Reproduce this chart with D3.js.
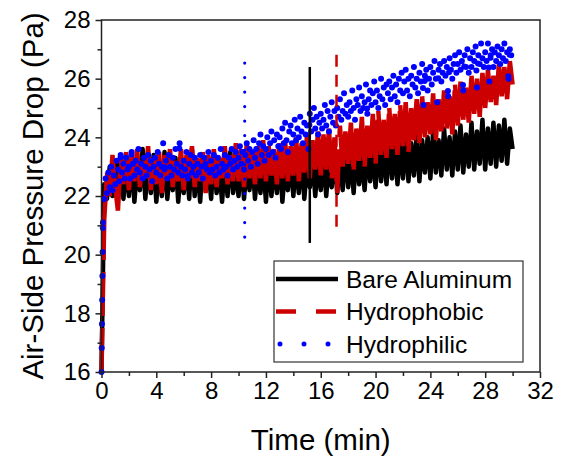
<!DOCTYPE html>
<html>
<head>
<meta charset="utf-8">
<script src="https://cdn.jsdelivr.net/npm/d3@7"></script>
<style>
  body { margin: 0; background: #fff; }
  text { font-family: Arial, "Liberation Sans", sans-serif; fill: #000; }
</style>
</head>
<body>
<div id="chart"></div>
<script>
// sampling steps (min)
var stepBR = 0.2, stepBlue = 0.1;

// Bare Aluminum, every 0.2 min from 0 to 30
var bareVals = [
  16.0, 22.4, 21.9, 23.0, 22.0, 23.2, 22.1, 23.4, 21.9, 23.1,
  22.0, 23.3, 21.8, 23.0, 22.2, 23.6, 21.9, 23.2, 22.1, 23.4,
  21.8, 23.1, 22.0, 23.5, 21.9, 22.9, 22.2, 23.3, 21.8, 23.0,
  22.1, 23.2, 21.9, 23.6, 22.0, 23.1, 21.8, 23.3, 22.2, 23.0,
  21.9, 23.4, 22.1, 23.0, 21.8, 23.2, 22.0, 23.5, 22.1, 22.9,
  22.0, 23.3, 21.9, 23.1, 22.2, 23.4, 21.9, 23.0, 22.1, 23.2,
  21.8, 23.3, 22.0, 23.1, 22.1, 23.5, 21.8, 23.0, 22.2, 23.3,
  22.0, 23.2, 22.1, 23.4, 21.9, 23.1, 22.3, 23.3, 22.0, 23.2,
  22.2, 23.4, 22.0, 23.2, 22.3, 23.5, 22.1, 23.3, 22.2, 23.6,
  22.3, 23.4, 22.1, 23.6, 22.4, 23.3, 22.2, 23.7, 22.5, 23.5,
  22.3, 23.8, 22.5, 23.6, 22.4, 23.9, 22.6, 23.7, 22.4, 23.8,
  22.6, 24.0, 22.5, 23.8, 22.7, 24.1, 22.5, 23.9, 22.8, 24.0,
  22.6, 24.2, 22.8, 23.9, 22.7, 24.3, 22.9, 24.0, 22.7, 24.2,
  22.9, 24.4, 22.8, 24.1, 23.0, 24.5, 22.9, 24.2, 23.1, 24.6,
  22.9, 24.3, 23.1, 24.5, 23.0, 24.4, 23.2, 24.6, 23.1, 24.3,
  23.6
];

// Hydrophobic, every 0.2 min
var phobicVals = [
  16.0, 21.2, 22.8, 22.0, 23.4, 22.3, 21.5, 23.3, 22.4, 23.5,
  22.2, 23.4, 22.5, 23.6, 22.3, 23.2, 22.6, 23.7, 22.2, 23.3,
  22.4, 23.5, 22.1, 23.4, 22.6, 23.6, 22.3, 23.2, 22.5, 23.6,
  22.2, 23.4, 22.6, 23.7, 22.3, 23.3, 22.5, 23.5, 22.1, 23.4,
  22.4, 23.6, 22.3, 23.3, 22.6, 23.7, 22.4, 23.4, 22.5, 23.8,
  22.5, 23.6, 22.3, 23.8, 22.6, 23.5, 22.4, 23.7, 22.6, 23.9,
  22.5, 23.7, 22.7, 23.6, 22.4, 23.8, 22.6, 23.9, 22.5, 23.7,
  22.7, 24.0, 22.5, 23.8, 22.8, 24.1, 22.6, 23.9, 22.9, 24.2,
  22.7, 24.1, 22.9, 24.3, 22.6, 24.0, 22.1, 24.4, 23.0, 24.2,
  23.1, 24.5, 22.9, 24.3, 23.2, 24.7, 23.0, 24.4, 23.3, 24.8,
  23.1, 24.9, 23.4, 24.6, 23.3, 25.0, 23.6, 24.8, 23.4, 25.1,
  23.7, 25.2, 23.5, 25.0, 23.9, 25.3, 23.8, 25.4, 24.0, 25.2,
  24.1, 25.5, 23.9, 25.3, 24.2, 25.6, 24.3, 25.4, 24.1, 25.8,
  24.4, 25.9, 24.6, 25.7, 24.5, 26.1, 24.8, 26.0, 24.7, 26.2,
  25.0, 26.3, 25.2, 26.1, 25.1, 26.5, 25.4, 26.4, 25.3, 26.6,
  25.8
];

// Hydrophilic, every 0.1 min
var philicVals = [
  16.0, 21.1, 21.9, 22.6, 22.1, 22.8, 22.3, 23.0, 22.2, 22.7,
  22.4, 23.2, 22.9, 22.5, 23.4, 22.8, 23.1, 22.6, 23.3, 22.9,
  23.0, 22.6, 23.5, 23.1, 22.7, 23.2, 22.9, 23.6, 22.8, 23.1,
  22.6, 23.3, 23.0, 22.7, 23.4, 22.9, 23.2, 22.5, 23.0, 23.3,
  22.8, 23.5, 23.1, 22.7, 23.0, 23.8, 22.9, 23.2, 22.6, 23.4,
  23.0, 22.7, 23.3, 22.9, 23.6, 23.1, 22.8, 23.8, 23.0, 22.7,
  23.2, 22.9, 23.5, 22.6, 23.1, 23.4, 22.8, 23.0, 23.3, 22.7,
  23.1, 22.8, 23.4, 23.0, 22.6, 23.3, 23.1, 22.9, 23.5, 22.8,
  23.2, 22.9, 23.4, 22.7, 23.0, 23.3, 22.8, 23.6, 23.1, 22.9,
  23.4, 23.0, 22.7, 23.3, 23.1, 23.6, 22.9, 23.2, 23.5, 23.0,
  23.3, 23.7, 23.1, 23.5, 22.9, 23.4, 23.8, 23.2, 23.6, 23.0,
  23.5, 23.9, 23.3, 23.6, 23.1, 23.8, 24.1, 23.4, 23.7, 23.2,
  23.6, 24.0, 23.4, 23.8, 24.2, 23.5, 23.9, 23.3, 24.1, 23.7,
  24.0, 23.6, 24.3, 23.8, 24.5, 23.9, 23.5, 24.2, 24.4, 23.8,
  24.1, 24.6, 23.9, 24.3, 24.0, 24.7, 24.2, 23.8, 24.5, 24.1,
  24.4, 23.6, 24.8, 24.2, 24.6, 25.0, 24.3, 24.7, 24.1, 24.5,
  24.8, 24.3, 24.6, 25.1, 24.4, 24.9, 24.2, 24.7, 25.2, 24.5,
  24.9, 24.4, 25.0, 24.7, 25.3, 24.6, 24.9, 25.5, 24.8, 25.1,
  24.7, 25.2, 24.9, 25.6, 25.0, 24.6, 25.3, 25.1, 25.7, 24.9,
  25.4, 25.0, 25.2, 25.8, 24.8, 25.3, 25.6, 25.1, 25.5, 25.9,
  25.2, 25.6, 25.0, 25.4, 26.0, 25.3, 25.7, 25.1, 25.8, 25.5,
  25.9, 25.3, 25.7, 26.1, 25.4, 25.8, 25.2, 26.0, 25.6, 26.2,
  25.5, 25.9, 26.3, 25.6, 26.0, 25.4, 26.1, 25.8, 26.4, 25.7,
  26.0, 25.5, 26.2, 25.9, 26.5, 25.1, 26.1, 26.3, 25.6, 26.0,
  26.4, 25.8, 26.2, 26.6, 26.0, 25.2, 26.3, 26.5, 25.9, 26.2,
  26.6, 26.1, 26.4, 25.4, 26.7, 26.3, 26.0, 26.5, 26.8, 26.2,
  26.5, 26.9, 26.3, 26.6, 25.6, 26.8, 26.4, 27.0, 26.2, 26.7,
  26.4, 26.9, 26.6, 27.1, 25.7, 26.8, 26.5, 27.2, 26.7, 26.4,
  26.9, 26.6, 27.2, 25.9, 26.8, 27.0, 26.4, 26.9, 26.6, 27.1,
  26.8, 26.5, 27.0, 26.7, 27.2, 26.6, 26.9, 26.0, 27.0, 26.8,
  27.6
];

// vertical marker lines (time, low, high)
var markerTimes = [15.2, 17.15, 10.45];
var markerLow   = [20.4, 20.95, 20.6];
var markerHigh  = [26.4, 27.05, 26.55];

var seriesNames = ["Bare Aluminum", "Hydrophobic", "Hydrophilic"];
var seriesColors = ["#000000", "#cc0000", "#0000ff"];

var xTicks = [0, 4, 8, 12, 16, 20, 24, 28, 32];
var xMinor = [2, 6, 10, 14, 18, 22, 26, 30];
var yTicks = [16, 18, 20, 22, 24, 26, 28];
var yMinor = [17, 19, 21, 23, 25, 27];

// dimensions
var margin = {top: 20, right: 22, bottom: 87, left: 101.5},
    width = 562 - margin.left - margin.right,
    height = 459 - margin.top - margin.bottom;

var x = d3.scaleLinear().domain([0, 32]).range([0, width]);
var y = d3.scaleLinear().domain([16, 28]).range([height, 0]);

var svg = d3.select("#chart").append("svg")
    .attr("width", 562)
    .attr("height", 459)
  .append("g")
    .attr("transform", "translate(" + margin.left + "," + margin.top + ")");

function toPoints(vals, step) {
  return vals.map(function(v, i) { return {t: i * step, v: v}; });
}
var bare = toPoints(bareVals, stepBR),
    phobic = toPoints(phobicVals, stepBR),
    philic = toPoints(philicVals, stepBlue);

var line = d3.line()
    .x(function(d) { return x(d.t); })
    .y(function(d) { return y(d.v); });

// each segment as its own subpath so the dash pattern restarts at every point
function segPath(pts) {
  return d3.pairs(pts).map(function(p) { return line(p); }).join("");
}

// black solid
svg.append("path")
    .attr("d", line(bare))
    .attr("fill", "none")
    .attr("stroke", seriesColors[0])
    .attr("stroke-width", 4.5)
    .attr("stroke-linejoin", "round");

// red dashed
svg.append("path")
    .attr("d", segPath(phobic))
    .attr("fill", "none")
    .attr("stroke", seriesColors[1])
    .attr("stroke-width", 4.5)
    .attr("stroke-dasharray", "44 12");

// blue dotted
svg.append("path")
    .attr("d", segPath(philic))
    .attr("fill", "none")
    .attr("stroke", seriesColors[2])
    .attr("stroke-width", 6)
    .attr("stroke-linecap", "round")
    .attr("stroke-dasharray", "0 24");

// marker lines
var markerDash = [null, "12 8", "0 14.5"];
var markerCap = ["butt", "butt", "round"];
var markerW = [2.5, 2.5, 3.2];
markerTimes.forEach(function(t, i) {
  svg.append("path")
      .attr("d", line([{t: t, v: markerLow[i]}, {t: t, v: markerHigh[i]}]))
      .attr("fill", "none")
      .attr("stroke", seriesColors[i])
      .attr("stroke-width", markerW[i])
      .attr("stroke-linecap", markerCap[i])
      .attr("stroke-dasharray", markerDash[i]);
});

// frame
svg.append("rect")
    .attr("width", width)
    .attr("height", height)
    .attr("fill", "none")
    .attr("stroke", "#222")
    .attr("stroke-width", 1.5);

// axes
svg.append("g")
    .attr("transform", "translate(0," + height + ")")
    .call(d3.axisBottom(x).tickValues(xTicks).tickSize(6).tickPadding(4));
svg.append("g")
    .attr("transform", "translate(0," + height + ")")
    .call(d3.axisBottom(x).tickValues(xMinor).tickSize(4).tickFormat(""));
svg.append("g")
    .call(d3.axisLeft(y).tickValues(yTicks).tickSize(6).tickPadding(5));
svg.append("g")
    .call(d3.axisLeft(y).tickValues(yMinor).tickSize(4).tickFormat(""));

svg.selectAll(".domain").remove();
svg.selectAll(".tick line").attr("stroke", "#222").attr("stroke-width", 1.5);
svg.selectAll(".tick text").attr("font-size", 24).attr("font-family", "Arial, 'Liberation Sans', sans-serif").attr("fill", "#000");

// axis titles
svg.append("text")
    .attr("x", width / 2)
    .attr("y", height + 78)
    .attr("text-anchor", "middle")
    .attr("font-size", 29.5)
    .text("Time (min)");

svg.append("text")
    .attr("transform", "translate(" + (43 - margin.left) + "," + (height / 2) + ") rotate(-90)")
    .attr("text-anchor", "middle")
    .attr("font-size", 29.5)
    .text("Air-Side Pressure Drop (Pa)");

// legend
var legend = svg.append("g")
    .attr("transform", "translate(" + (274 - margin.left) + "," + (261 - margin.top) + ")");
legend.append("rect")
    .attr("width", 249)
    .attr("height", 101)
    .attr("fill", "#fff")
    .attr("stroke", "#333")
    .attr("stroke-width", 1.2);

var legDash = [null, "20 20", "0 24"];
var legCap = ["butt", "butt", "round"];
var legW = [4.5, 4.5, 5];
seriesNames.forEach(function(name, i) {
  var ly = 18 + i * 32.5;
  legend.append("line")
      .attr("x1", i === 2 ? 6 : 2).attr("x2", 64)
      .attr("y1", ly).attr("y2", ly)
      .attr("stroke", seriesColors[i])
      .attr("stroke-width", legW[i])
      .attr("stroke-linecap", legCap[i])
      .attr("stroke-dasharray", legDash[i]);
  legend.append("text")
      .attr("x", 72)
      .attr("y", ly + 8.5)
      .attr("font-size", 24.5)
      .text(name);
});
</script>
</body>
</html>
